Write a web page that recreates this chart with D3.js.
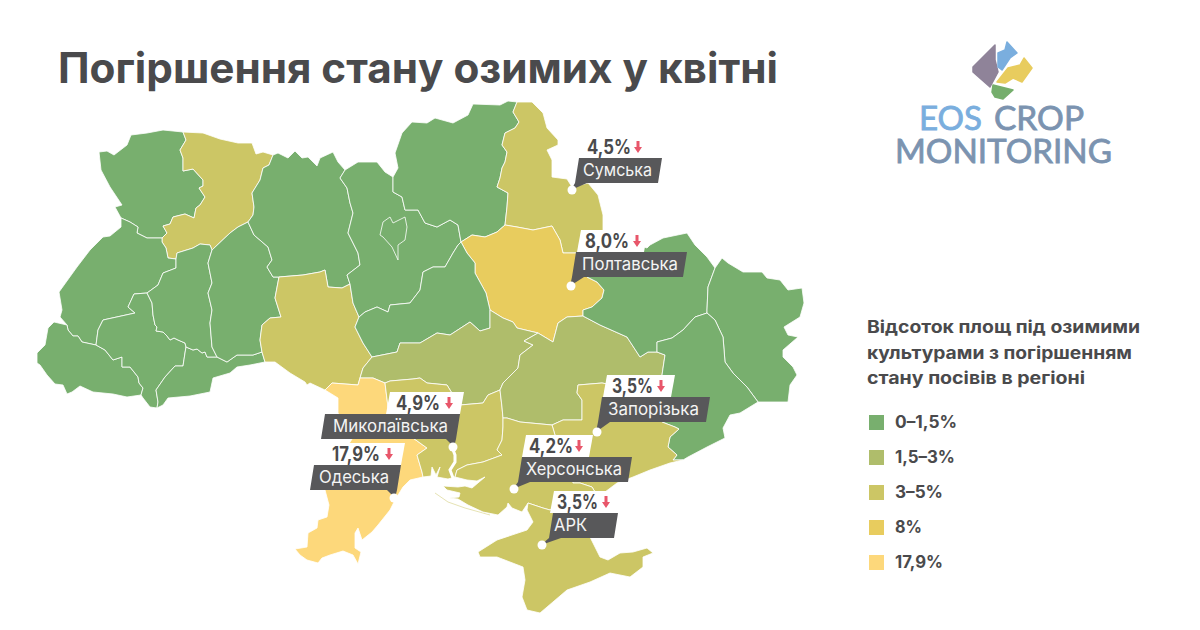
<!DOCTYPE html>
<html lang="uk">
<head>
<meta charset="utf-8">
<title>Погіршення стану озимих у квітні</title>
<script src="https://cdn.jsdelivr.net/npm/d3@7"></script>
<style>
  html, body { margin: 0; padding: 0; background: #fff; }
  svg { display: block; }
  text { font-family: Inter, "Open Sans", sans-serif; }
</style>
</head>
<body>
<svg id="chart" width="1200" height="630"></svg>
<script>
"use strict";

const titleText = "Погіршення стану озимих у квітні";

// legend
const legendTitle = ["Відсоток площ під озимими", "культурами з погіршенням", "стану посівів в регіоні"];
const legendLabels = ["0–1,5%", "1,5–3%", "3–5%", "8%", "17,9%"];
const legendColors = ["#78af6e", "#afbd6b", "#ccc665", "#e8cc5e", "#fdd87b"];
const bandLimits = [1.5, 3, 5, 10];

// regions, values in % (green and 3-5 ones have no printed figure, estimated from legend band)
const regionNames = ["Волинська", "Рівненська", "Львівська", "Закарпатська", "Івано-Франківська", "Чернівецька",
  "Тернопільська", "Хмельницька", "Житомирська", "Вінницька", "Київська", "м. Київ", "Чернігівська", "Сумська",
  "Полтавська", "Черкаська", "Кіровоградська", "Одеська", "Миколаївська", "Дніпропетровська", "Харківська",
  "Луганська", "Донецька", "Запорізька", "Херсонська", "АРК"];
const regionValues = [1, 4, 1, 1, 1, 1,
  1, 1, 1, 4, 1, 1, 1, 4.5,
  8, 1, 2, 17.9, 4.9, 2, 1,
  1, 1, 3.5, 4.2, 3.5];

// callouts
const calloutNames = ["Сумська", "Полтавська", "Запорізька", "Миколаївська", "Одеська", "Херсонська", "АРК"];
const calloutValues = ["4,5%", "8,0%", "3,5%", "4,9%", "17,9%", "4,2%", "3,5%"];

// shared borders in map units, each region below is stitched from them
const borders = {
  volyn_north: [[99,152],[107,151],[114,155],[127,145],[131,135],[147,133],[163,130],[183,132]],
  volyn_rivne: [[183,132],[186,140],[180,150],[183,158],[183,171],[193,169],[203,180],[203,186],[199,188],[205,197],[200,205],[196,208],[194,218],[185,214],[173,217],[170,224],[163,226],[167,233],[162,238]],
  volyn_west: [[99,152],[101,170],[110,187],[122,205],[115,207],[121,218]],
  volyn_lviv: [[121,218],[130,222],[138,227],[137,233],[147,238],[162,238]],
  rivne_north: [[183,132],[203,133],[220,139],[238,143],[252,143],[256,154],[263,152],[273,155]],
  rivne_zhyt: [[273,155],[269,165],[263,168],[260,180],[252,193],[254,207],[253,215],[248,222]],
  rivne_khm: [[248,222],[238,227],[230,233],[212,250]],
  rivne_tern: [[212,250],[210,245],[200,244],[193,248],[177,253],[176,259]],
  rivne_lviv: [[176,259],[168,258],[166,248],[162,242],[162,238]],
  lviv_west: [[121,218],[121,227],[110,236],[103,237],[90,250],[77,267],[59,292],[62,310],[60,317],[67,325]],
  lviv_zak: [[67,325],[68,330],[73,336],[78,336],[82,342],[96,345]],
  lviv_if: [[96,345],[98,330],[103,320],[135,313],[128,307],[134,294],[147,293]],
  lviv_tern: [[147,293],[158,285],[163,273],[176,268],[176,259]],
  zak_if: [[96,345],[105,350],[113,360],[122,357],[122,367],[130,367],[138,377],[139,383],[143,388],[141,395]],
  zak_outer: [[141,395],[127,397],[113,394],[93,392],[80,386],[72,392],[67,394],[63,385],[55,384],[47,375],[40,365],[37,363],[37,353],[45,345],[48,328],[54,322],[67,325]],
  if_tern: [[147,293],[152,303],[153,315],[155,325],[157,327],[156,331],[163,332],[167,336],[170,340],[174,338],[178,340],[185,343],[186,347]],
  if_chv: [[186,347],[185,353],[183,366],[175,366],[165,377],[156,390],[158,402],[157,408]],
  if_outer: [[157,408],[150,407],[143,398],[141,395]],
  tern_chv: [[186,347],[193,350],[197,349],[202,353],[205,352],[207,357],[217,357]],
  khm_chv: [[217,357],[227,362],[237,355],[253,355],[262,352]],
  vin_chv: [[262,352],[265,362]],
  chv_outer: [[265,362],[250,365],[237,367],[230,373],[213,378],[210,392],[190,396],[168,398],[163,405],[157,408]],
  tern_khm: [[212,250],[208,263],[212,283],[208,293],[212,310],[210,323],[212,347],[217,357]],
  khm_zhyt: [[248,222],[254,235],[268,247],[272,260],[267,267],[273,277],[279,277]],
  khm_vin: [[279,277],[275,298],[281,317],[270,318],[262,325],[260,340],[262,352]],
  zhyt_north: [[273,155],[278,153],[288,158],[295,151],[302,158],[308,157],[317,166],[320,158],[333,152],[338,162],[345,170]],
  zhyt_kyiv: [[345,170],[340,178],[347,188],[350,203],[353,213],[348,233],[358,253],[360,265],[347,275],[350,284]],
  zhyt_vin: [[279,277],[303,275],[320,272],[325,270],[328,287],[342,288],[350,284]],
  kyiv_north: [[345,170],[358,162],[377,162],[385,172],[393,177]],
  kyiv_chg: [[393,177],[393,192],[402,197],[405,210],[418,210],[425,223],[437,227],[450,220],[458,225],[461,242]],
  kyiv_cherk: [[461,242],[458,245],[453,253],[445,267],[433,267],[423,272],[420,290],[410,303],[390,305],[388,312],[377,307],[365,312],[359,317]],
  kyiv_vin: [[350,284],[353,303],[359,317]],
  chg_outer: [[393,177],[398,168],[395,153],[402,133],[412,122],[427,123],[435,118],[453,123],[468,115],[473,104],[500,105],[508,101],[517,102]],
  chg_sumy: [[517,102],[513,112],[519,122],[515,128],[505,133],[502,145],[507,152],[505,162],[502,168],[500,178],[497,187],[508,193],[507,207],[505,225]],
  chg_polt: [[505,225],[497,232],[485,237],[472,235],[461,242]],
  sumy_outer: [[517,102],[532,102],[543,113],[547,128],[558,140],[558,145],[547,150],[552,160],[552,177],[567,179],[572,187],[588,183],[598,195],[603,215],[603,230]],
  sumy_kh: [[603,230],[590,245],[577,253]],
  sumy_polt: [[505,225],[517,227],[533,230],[552,226],[560,240],[563,253],[577,253]],
  polt_kh: [[577,253],[585,270],[587,277],[597,282],[604,290],[602,298],[592,307],[583,310],[583,316]],
  polt_dn: [[583,316],[567,317],[558,323],[553,342],[538,333]],
  polt_kir: [[538,333],[517,328],[513,322],[503,318],[490,310]],
  polt_cherk: [[490,310],[486,293],[475,273],[475,263],[467,253],[461,242]],
  cherk_vin: [[359,317],[355,327],[363,343],[372,357]],
  kir_vin: [[372,357],[363,368],[360,378]],
  cherk_kir: [[372,357],[397,352],[400,343],[420,343],[437,333],[450,335],[470,322],[480,331],[490,328],[490,310]],
  vin_odesa: [[360,378],[358,385],[332,383],[325,390]],
  vin_outer: [[325,390],[310,383],[307,385],[305,382],[290,373],[275,362],[265,362]],
  odesa_kir: [[360,378],[373,378],[385,383]],
  odesa_myk: [[385,383],[388,407],[400,436],[413,438],[427,448],[417,455],[422,472],[423,477]],
  odesa_outer: [[423,477],[410,480],[403,487],[395,500],[390,510],[378,525],[372,532],[362,540],[358,528],[355,533],[355,548],[361,552],[358,564],[353,555],[343,551],[330,555],[322,558],[318,563],[307,560],[300,555],[295,549],[307,547],[308,533],[317,528],[318,520],[327,517],[329,505],[325,490],[337,465],[345,450],[352,439],[348,430],[338,413],[338,398],[325,390]],
  kir_myk: [[385,383],[390,381],[413,379],[420,378],[427,383],[447,385],[458,403],[460,405],[483,403],[488,395],[500,390]],
  kir_dn: [[500,390],[503,383],[518,368],[520,355],[533,345],[524,341],[538,333]],
  myk_dn: [[500,390],[502,407],[503,418]],
  myk_khe: [[503,418],[503,427],[502,440],[497,450],[502,455],[483,462],[467,465],[457,470],[455,477]],
  myk_coast: [[423,477],[431,476],[432,467],[436,475],[440,467],[437,477],[448,479],[455,477]],
  dn_kh: [[583,316],[600,325],[627,337],[640,357],[648,352],[657,352]],
  dn_don: [[657,352],[665,355],[662,375],[663,395]],
  dn_zap: [[663,395],[640,390],[602,383],[578,385],[577,393],[582,400],[582,420],[563,420],[552,425]],
  dn_khe: [[552,425],[520,422],[507,418],[503,418]],
  kh_outer: [[715,268],[707,257],[695,245],[687,233],[663,238],[650,245],[647,248],[625,240],[603,230]],
  kh_lug: [[707,313],[707,310],[708,287],[715,268]],
  kh_don: [[707,313],[695,317],[683,330],[672,338],[657,342],[657,352]],
  lug_outer: [[715,268],[722,258],[728,263],[743,272],[762,272],[767,278],[780,280],[788,290],[802,288],[804,303],[800,317],[784,327],[788,335],[798,337],[783,350],[783,357],[793,367],[797,375],[790,385],[788,402],[760,402],[758,402]],
  don_lug: [[758,402],[747,387],[733,373],[725,362],[723,337],[715,320],[707,313]],
  don_outer: [[683,460],[688,457],[707,447],[725,438],[723,428],[730,415],[740,413],[758,402]],
  zap_don: [[663,395],[662,422],[675,427],[679,429],[670,437],[668,447],[677,455],[673,460],[683,460]],
  zap_coast: [[595,492],[605,492],[617,483],[633,477],[650,470],[670,463],[683,460]],
  zap_khe: [[552,425],[555,435],[560,455],[570,470],[573,483],[580,483],[592,487],[595,492]],
  khe_crimea: [[528,503],[543,508],[550,510],[575,500],[595,492]],
  khe_coast: [[455,477],[467,480],[477,481],[485,477],[472,488],[465,486],[458,487],[443,486],[447,490],[460,493],[459,497],[449,498],[458,499],[468,505],[483,512],[498,515],[507,507],[508,503],[512,508],[522,512],[528,503]],
  crimea_outer: [[528,503],[527,510],[533,522],[527,530],[497,540],[478,552],[480,557],[497,557],[523,567],[525,580],[522,597],[527,610],[540,613],[567,590],[590,582],[610,573],[630,577],[643,567],[643,557],[653,553],[647,548],[633,552],[620,553],[608,560],[600,557],[590,537],[588,525],[595,492]],
  kyiv_city: [[380,235],[383,222],[390,217],[393,223],[405,217],[407,227],[405,240],[398,245],[398,260],[392,247],[383,237],[380,235]]
};

const regionBorders = [
  ["volyn_north", "volyn_rivne", "volyn_lviv", "volyn_west"],
  ["volyn_rivne", "rivne_north", "rivne_zhyt", "rivne_khm", "rivne_tern", "rivne_lviv"],
  ["volyn_lviv", "rivne_lviv", "lviv_tern", "lviv_if", "lviv_zak", "lviv_west"],
  ["lviv_zak", "zak_if", "zak_outer"],
  ["lviv_if", "if_tern", "if_chv", "if_outer", "zak_if"],
  ["tern_chv", "khm_chv", "vin_chv", "chv_outer", "if_chv"],
  ["rivne_tern", "tern_khm", "tern_chv", "if_tern", "lviv_tern"],
  ["rivne_khm", "khm_zhyt", "khm_vin", "khm_chv", "tern_khm"],
  ["zhyt_north", "zhyt_kyiv", "zhyt_vin", "khm_zhyt", "rivne_zhyt"],
  ["zhyt_vin", "kyiv_vin", "cherk_vin", "kir_vin", "vin_odesa", "vin_outer", "vin_chv", "khm_vin"],
  ["kyiv_north", "kyiv_chg", "kyiv_cherk", "kyiv_vin", "zhyt_kyiv"],
  ["kyiv_city"],
  ["chg_outer", "chg_sumy", "chg_polt", "kyiv_chg"],
  ["sumy_outer", "sumy_kh", "sumy_polt", "chg_sumy"],
  ["chg_polt", "sumy_polt", "polt_kh", "polt_dn", "polt_kir", "polt_cherk"],
  ["kyiv_cherk", "polt_cherk", "cherk_kir", "cherk_vin"],
  ["cherk_kir", "polt_kir", "kir_dn", "kir_myk", "odesa_kir", "kir_vin"],
  ["vin_odesa", "odesa_kir", "odesa_myk", "odesa_outer"],
  ["kir_myk", "myk_dn", "myk_khe", "myk_coast", "odesa_myk"],
  ["polt_dn", "dn_kh", "dn_don", "dn_zap", "dn_khe", "myk_dn", "kir_dn"],
  ["sumy_kh", "kh_outer", "kh_lug", "kh_don", "dn_kh", "polt_kh"],
  ["kh_lug", "lug_outer", "don_lug"],
  ["kh_don", "don_lug", "don_outer", "zap_don", "dn_don"],
  ["dn_zap", "zap_don", "zap_coast", "zap_khe"],
  ["dn_khe", "zap_khe", "khe_crimea", "khe_coast", "myk_khe"],
  ["khe_crimea", "crimea_outer"]
];

const bugRiver = [[452,447],[455,455],[455,462],[450,470],[453,478]];
const kinburnSpit = [[435,493],[448,502],[465,508],[490,515]];

const textColor = "#4a4a4c";
const boxColor = "#58585a";
const arrowColor = "#e8566a";

const svg = d3.select("#chart");

// join border pieces into a closed ring, whatever order they are listed in
function stitch(names) {
  const left = names.map((n) => borders[n]);
  let ring = left.shift().slice();
  while (left.length) {
    const end = ring[ring.length - 1];
    const i = left.findIndex((a) => same(a[0], end) || same(a[a.length - 1], end));
    if (i < 0) throw new Error("gap in ring " + names.join(","));
    const piece = left.splice(i, 1)[0];
    ring = ring.concat(same(piece[0], end) ? piece.slice(1) : piece.slice().reverse().slice(1));
  }
  return ring;
}
function same(a, b) {
  return a[0] === b[0] && a[1] === b[1];
}

const band = d3.scaleThreshold().domain(bandLimits).range(legendColors);
const features = regionNames.map((name, i) => ({
  type: "Feature",
  properties: { name: name, value: regionValues[i] },
  geometry: { type: "Polygon", coordinates: [stitch(regionBorders[i])] }
}));
const path = d3.geoPath(d3.geoIdentity());

svg.append("text")
  .attr("x", 58).attr("y", 83)
  .attr("font-size", 42).attr("font-weight", 700)
  .attr("fill", textColor)
  .attr("textLength", 720).attr("lengthAdjust", "spacingAndGlyphs")
  .text(titleText);

svg.append("path")
  .datum({ type: "LineString", coordinates: kinburnSpit })
  .attr("d", path)
  .attr("fill", "none")
  .attr("stroke", "#e6e3b4")
  .attr("stroke-width", 1);

svg.append("g").attr("class", "regions")
  .selectAll("path")
  .data(features)
  .join("path")
  .attr("d", path)
  .attr("fill", (d) => band(d.properties.value))
  .attr("stroke", "#fff")
  .attr("stroke-width", 0.8)
  .attr("stroke-linejoin", "round")
  .append("title")
  .text((d) => d.properties.name);

svg.append("path")
  .datum({ type: "LineString", coordinates: bugRiver })
  .attr("d", path)
  .attr("fill", "none")
  .attr("stroke", "#fff")
  .attr("stroke-width", 3);

// callout layout: dot, box top edge and extents, text placement
const calloutLayout = [
  { dot: [572, 190], top: 158, x0: 579, x1: 662, vx0: 583, vx1: 662, labelX: 583, labelW: 69, valueX: 587, valueW: 44, arrowX: 638, side: "left" },
  { dot: [571, 286], top: 252, x0: 576, x1: 687, vx0: 581, vx1: 648, labelX: 582, labelW: 96, valueX: 585, valueW: 44, arrowX: 637, side: "left" },
  { dot: [597, 432], top: 397, x0: 602, x1: 710, vx0: 607, vx1: 675, labelX: 608, labelW: 91, valueX: 612, valueW: 41, arrowX: 661, side: "left" },
  { dot: [453, 447], top: 414, x0: 325, x1: 460, vx0: 390, vx1: 464, labelX: 333, labelW: 115, valueX: 396, valueW: 44, arrowX: 449, side: "right" },
  { dot: [394, 498], top: 465, x0: 314, x1: 401, vx0: 328, vx1: 405, labelX: 319, labelW: 70, valueX: 332, valueW: 48, arrowX: 389, side: "right" },
  { dot: [514, 489], top: 457, x0: 522, x1: 632, vx0: 526, vx1: 593, labelX: 526, labelW: 96, valueX: 529, valueW: 44, arrowX: 579, side: "left" },
  { dot: [542, 545], top: 513, x0: 553, x1: 618, vx0: 554, vx1: 618, labelX: 554, labelW: 33, valueX: 557, valueW: 41, arrowX: 606, side: "left" }
];

const boxLine = d3.line();
const callouts = svg.append("g").attr("class", "callouts")
  .selectAll("g")
  .data(calloutNames.map((name, i) => ({ name: name, value: calloutValues[i], pos: calloutLayout[i] })))
  .join("g");

const valueH = 22, nameH = 25, skew = 4;

callouts.append("path")
  .attr("fill", "#fff")
  .attr("d", (d) => {
    const p = d.pos, t = p.top - valueH;
    return boxLine([[p.vx0, t], [p.vx1, t], [p.vx1 - skew, p.top], [p.vx0 - skew, p.top]]) + "Z";
  });

callouts.append("path")
  .attr("fill", boxColor)
  .attr("d", (d) => {
    const p = d.pos, b = p.top + nameH;
    const tail = p.side === "left"
      ? [[p.x0 + 8, b], [p.dot[0] - 1, p.dot[1]], [p.x0 - skew, b]]
      : [[p.x1 - skew, b], [p.dot[0] + 1, p.dot[1]], [p.x1 - skew - 10, b]];
    const corners = p.side === "left"
      ? [[p.x0, p.top], [p.x1, p.top], [p.x1 - skew, b], ...tail]
      : [[p.x0, p.top], [p.x1, p.top], ...tail, [p.x0 - skew, b]];
    return boxLine(corners) + "Z";
  });

callouts.append("circle")
  .attr("cx", (d) => d.pos.dot[0])
  .attr("cy", (d) => d.pos.dot[1])
  .attr("r", 4.5)
  .attr("fill", "#fff");

callouts.append("text")
  .attr("x", (d) => d.pos.labelX)
  .attr("y", (d) => d.pos.top + 18)
  .attr("font-size", 17)
  .attr("font-weight", 400)
  .attr("fill", "#f4f4f4")
  .attr("textLength", (d) => d.pos.labelW)
  .attr("lengthAdjust", "spacingAndGlyphs")
  .text((d) => d.name);

callouts.append("text")
  .attr("x", (d) => d.pos.valueX)
  .attr("y", (d) => d.pos.top - 4)
  .attr("font-size", 19.5)
  .attr("font-weight", 700)
  .attr("fill", textColor)
  .attr("textLength", (d) => d.pos.valueW)
  .attr("lengthAdjust", "spacingAndGlyphs")
  .text((d) => d.value);

// small down arrows next to the values
callouts.append("path")
  .attr("fill", arrowColor)
  .attr("d", (d) => {
    const x = d.pos.arrowX, y = d.pos.top - 17;
    return boxLine([[x - 1.5, y], [x + 1.5, y], [x + 1.5, y + 6], [x + 4, y + 6], [x, y + 12], [x - 4, y + 6], [x - 1.5, y + 6]]) + "Z";
  });

// legend
const legend = svg.append("g").attr("class", "legend");

const legendTitleWidths = [273, 265, 218];
legend.selectAll("text.head")
  .data(legendTitle)
  .join("text")
  .attr("class", "head")
  .attr("x", 867)
  .attr("y", (d, i) => 333 + i * 25.5)
  .attr("font-size", 17)
  .attr("font-weight", 700)
  .attr("fill", textColor)
  .attr("textLength", (d, i) => legendTitleWidths[i])
  .attr("lengthAdjust", "spacingAndGlyphs")
  .text((d) => d);

const rowY = d3.scalePoint().domain(legendLabels).range([415, 555]);
const legendLabelWidths = [62, 60, 48, 27, 48];
const rows = legend.selectAll("g")
  .data(legendLabels)
  .join("g")
  .attr("transform", (d) => `translate(869,${rowY(d)})`);
rows.append("rect")
  .attr("width", 15).attr("height", 15)
  .attr("fill", (d, i) => legendColors[i]);
rows.append("text")
  .attr("x", 26).attr("y", 13)
  .attr("font-size", 17).attr("font-weight", 700)
  .attr("fill", textColor)
  .attr("textLength", (d, i) => legendLabelWidths[i])
  .attr("lengthAdjust", "spacingAndGlyphs")
  .text((d) => d);

// logo
const logoShapes = [
  { fill: "#8f8399", points: [[995,45],[973,67],[973,72],[990,87],[998,72],[995,60]] },
  { fill: "#7aaede", points: [[1007,42],[1017,53],[1010,58],[1002,70],[998,67],[998,53],[1005,50]] },
  { fill: "#e8cc5e", points: [[1024,58],[1032,68],[1022,82],[1013,78],[1005,83],[997,82],[1008,68],[1020,65]] },
  { fill: "#75ae6c", points: [[993,85],[1013,90],[1003,99],[995,97],[992,92]] }
];
const logo = svg.append("g").attr("class", "logo");
logo.selectAll("path")
  .data(logoShapes)
  .join("path")
  .attr("d", (d) => boxLine.curve(d3.curveLinearClosed)(d.points))
  .attr("fill", (d) => d.fill)
  .attr("stroke", (d) => d.fill)
  .attr("stroke-width", 1.5)
  .attr("stroke-linejoin", "round");

const logoWords = ["EOS", "CROP", "MONITORING"];
const logoWordColors = ["#7aaede", "#7b93b0", "#7b93b0"];
const logoWordX = [919, 994, 895];
const logoWordY = [130, 130, 163];
const logoWordW = [63, 90, 217];
logo.selectAll("text")
  .data(logoWords)
  .join("text")
  .attr("x", (d, i) => logoWordX[i])
  .attr("y", (d, i) => logoWordY[i])
  .attr("font-size", 32)
  .attr("fill", (d, i) => logoWordColors[i])
  .attr("stroke", (d, i) => logoWordColors[i])
  .attr("stroke-width", 0.8)
  .attr("textLength", (d, i) => logoWordW[i])
  .attr("lengthAdjust", "spacingAndGlyphs")
  .style("font-family", "Lato, sans-serif")
  .text((d) => d);
</script>
</body>
</html>
